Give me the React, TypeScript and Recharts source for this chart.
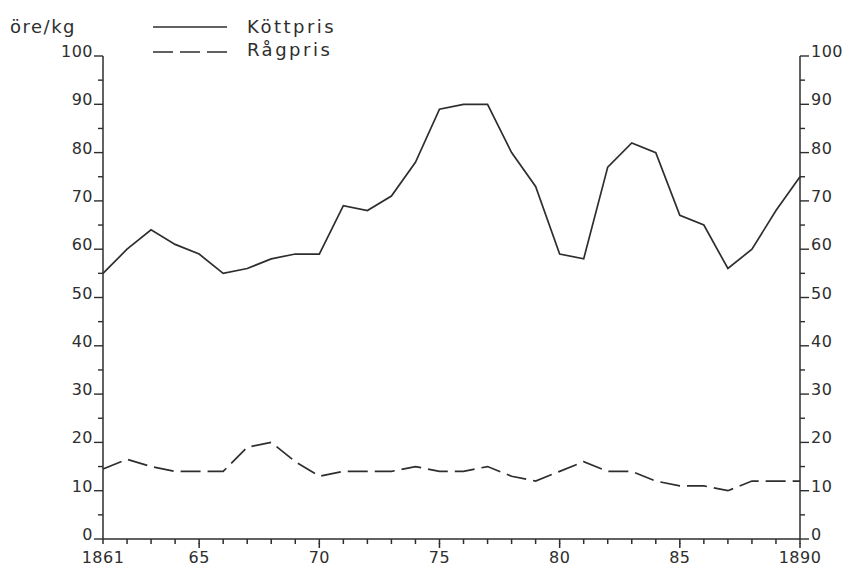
import { LineChart, Line, XAxis, YAxis } from 'recharts';

const years = [
  1861, 1862, 1863, 1864, 1865, 1866, 1867, 1868, 1869, 1870,
  1871, 1872, 1873, 1874, 1875, 1876, 1877, 1878, 1879, 1880,
  1881, 1882, 1883, 1884, 1885, 1886, 1887, 1888, 1889, 1890,
];

// Köttpris, öre/kg
const kottpris = [
  55, 60, 64, 61, 59, 55, 56, 58, 59, 59,
  69, 68, 71, 78, 89, 90, 90, 80, 73, 59,
  58, 77, 82, 80, 67, 65, 56, 60, 68, 75,
];

// Rågpris, öre/kg
const ragpris = [
  14.5, 16.5, 15, 14, 14, 14, 19, 20, 16, 13,
  14, 14, 14, 15, 14, 14, 15, 13, 12, 14,
  16, 14, 14, 12, 11, 11, 10, 12, 12, 12,
];

const yTicks = [0, 5, 10, 15, 20, 25, 30, 35, 40, 45, 50, 55, 60, 65, 70, 75, 80, 85, 90, 95, 100];
const xLabels: Record<number, string> = {
  1861: '1861', 1865: '65', 1870: '70', 1875: '75', 1880: '80', 1885: '85', 1890: '1890',
};

const ink = '#2e2e2e';
const font = '"DejaVu Sans", sans-serif';

const data = years.map((year, i) => ({ year, kott: kottpris[i], rag: ragpris[i] }));

function LeftTick({ x, y, payload }: any) {
  const major = payload.value % 10 === 0;
  return (
    <g>
      <line x1={x} x2={x - (major ? 9 : 5)} y1={y} y2={y} stroke={ink} strokeWidth={1.4} />
      {major && (
        <text x={x - 10} y={y + 1} textAnchor="end" fontSize={16} fill={ink} fontFamily={font} letterSpacing={0.5}>
          {payload.value}
        </text>
      )}
    </g>
  );
}

function RightTick({ x, y, payload }: any) {
  const major = payload.value % 10 === 0;
  return (
    <g>
      <line x1={x} x2={x + (major ? 9 : 5)} y1={y} y2={y} stroke={ink} strokeWidth={1.4} />
      {major && (
        <text x={x + 11} y={y + 1} textAnchor="start" fontSize={16} fill={ink} fontFamily={font} letterSpacing={0.5}>
          {payload.value}
        </text>
      )}
    </g>
  );
}

// y arrives 5px below the axis line (built-in tick line length)
function BottomTick({ x, y, payload }: any) {
  const label = xLabels[payload.value];
  const major = payload.value % 5 === 0;
  return (
    <g>
      {major && <line x1={x} x2={x} y1={y - 1} y2={y + 4} stroke={ink} strokeWidth={1.5} />}
      {label && (
        <text x={x} y={y + 19} textAnchor="middle" fontSize={16} fill={ink} fontFamily={font} letterSpacing={0.5}>
          {label}
        </text>
      )}
    </g>
  );
}

export default function App() {
  return (
    <div style={{ position: 'absolute', left: 0, top: 0, width: 848, height: 567, background: '#fff' }}>
      <LineChart width={848} height={567} data={data} margin={{ top: 56, right: 8, bottom: 0, left: 43 }}>
        <XAxis
          dataKey="year"
          type="number"
          domain={[1861, 1890]}
          ticks={years}
          interval={0}
          height={28}
          tickSize={5}
          tickMargin={0}
          tickLine={{ stroke: ink, strokeWidth: 1.5 }}
          tick={<BottomTick />}
          axisLine={{ stroke: ink, strokeWidth: 1.5 }}
        />
        <YAxis
          yAxisId="left"
          domain={[0, 100]}
          ticks={yTicks}
          interval={0}
          width={60}
          tickSize={0}
          tickMargin={0}
          tick={<LeftTick />}
          axisLine={{ stroke: ink, strokeWidth: 1.5 }}
        />
        <YAxis
          yAxisId="right"
          orientation="right"
          domain={[0, 100]}
          ticks={yTicks}
          interval={0}
          width={40}
          tickSize={0}
          tickMargin={0}
          tick={<RightTick />}
          axisLine={{ stroke: ink, strokeWidth: 1.5 }}
        />
        <Line yAxisId="left" type="linear" dataKey="kott" stroke={ink} strokeWidth={1.7} dot={false} isAnimationActive={false} />
        <Line yAxisId="right" type="linear" dataKey="rag" stroke={ink} strokeWidth={1.7} strokeDasharray="20 7" dot={false} isAnimationActive={false} />
      </LineChart>
      <svg width={400} height={70} style={{ position: 'absolute', left: 0, top: 0 }}>
        <text x={10} y={33} fontSize={18} fill={ink} fontFamily={font} letterSpacing={1.5}>öre/kg</text>
        <line x1={153} x2={227} y1={27} y2={27} stroke={ink} strokeWidth={1.7} />
        <text x={247} y={33} fontSize={18} fill={ink} fontFamily={font} letterSpacing={2.5}>Köttpris</text>
        <line x1={153} x2={227} y1={52} y2={52} stroke={ink} strokeWidth={1.7} strokeDasharray="20 7" />
        <text x={247} y={56} fontSize={18} fill={ink} fontFamily={font} letterSpacing={2.5}>Rågpris</text>
      </svg>
    </div>
  );
}
